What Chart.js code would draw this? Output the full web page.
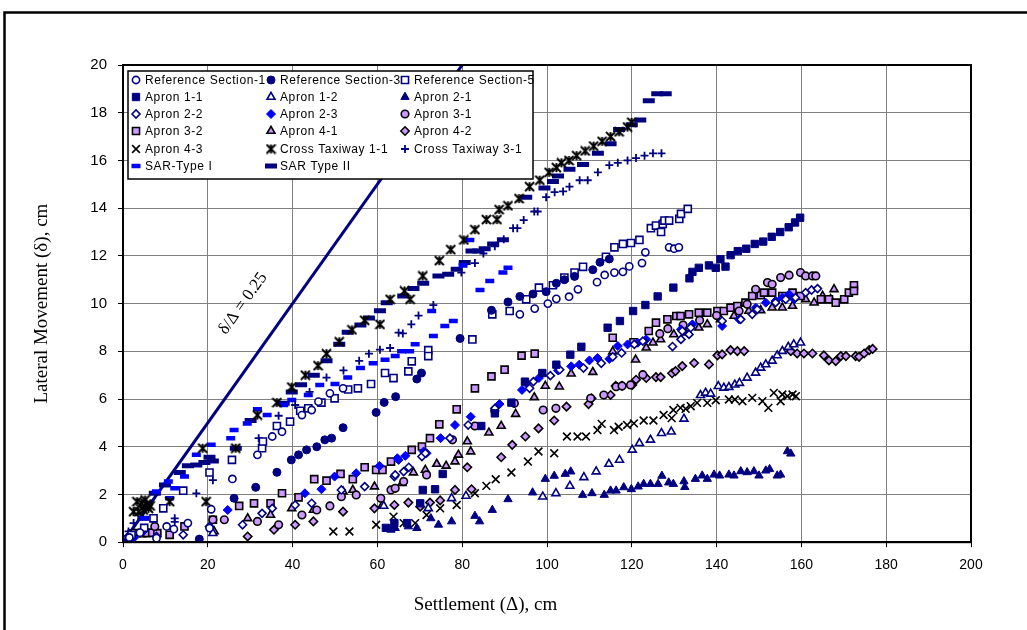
<!DOCTYPE html>
<html>
<head>
<meta charset="utf-8">
<script src="https://cdn.jsdelivr.net/npm/chart.js@4.4.1/dist/chart.umd.min.js"></script>
<style>
  html, body { margin: 0; padding: 0; background: #fff; }
</style>
</head>
<body>
<canvas id="chart" width="1027" height="630"></canvas>
<script>
// Axis ticks
const xTicks = [0, 20, 40, 60, 80, 100, 120, 140, 160, 180, 200]
const yTicks = [0, 2, 4, 6, 8, 10, 12, 14, 16, 18, 20]

// Series names (legend order)
const seriesNames = [
  'Reference Section-1', 'Reference Section-3', 'Reference Section-5',
  'Apron 1-1', 'Apron 1-2', 'Apron 2-1',
  'Apron 2-2', 'Apron 2-3', 'Apron 3-1',
  'Apron 3-2', 'Apron 4-1', 'Apron 4-2',
  'Apron 4-3', 'Cross Taxiway 1-1', 'Cross Taxiway 3-1',
  'SAR-Type I', 'SAR Type II'
]

// [settlement, lateral movement], cm
const refSection1 = [[1.5,0.2],[4,0.4],[7.9,0.17],[10.3,0.66],[12,0.55],[15.3,0.8],[20.4,0.59],[20.8,1.38],[25.8,2.65],[31.7,3.66],[35.2,4.43],[37.5,4.63],[42.2,5.33],[44.5,5.54],[46.1,5.89],[48.8,6.24],[51.9,6.45],[93.6,9.55],[97.1,9.79],[100.2,10.0],[102.2,10.2],[105.2,10.29],[107.3,10.6],[111.8,10.9],[113.6,11.2],[115.9,11.3],[117.9,11.33],[119.4,11.56],[122.4,11.7],[123.2,12.15],[128.8,12.36],[130,12.3],[131.1,12.36]]
const refSection3 = [[0,0],[18,0.13],[26.2,1.84],[31.3,2.3],[36.3,2.93],[39.7,3.45],[41.4,3.66],[43.3,3.87],[45.7,4.0],[47.6,4.29],[49.2,4.36],[51.9,4.8],[59.7,5.44],[61.6,5.86],[64.3,6.1],[69.3,6.84],[70.4,7.09],[79.5,8.54],[86.9,9.72],[90.8,10.07],[93.6,10.3],[96.7,10.4],[99.8,10.5],[102.2,10.85],[104.1,11.0],[106.5,11.14],[110.8,11.42],[112.5,11.73],[114.7,11.87]]
const refSection5 = [[2,0.3],[5,0.6],[7.2,1.0],[9.5,1.42],[14.2,2.16],[20.4,2.92],[25.7,3.45],[32.8,3.94],[33,4.22],[36.3,4.87],[39.4,5.05],[41.8,5.51],[43.7,5.61],[46.8,5.85],[49.9,6.03],[53.1,6.4],[55.4,6.45],[58.5,6.63],[61.8,7.09],[63.8,6.88],[67.3,7.16],[68.1,7.58],[72,8.05],[72,7.8],[82.4,8.5],[87.1,9.55],[91.2,9.69],[95.1,10.18],[98.1,10.67],[101.4,10.77],[104.1,11.09],[106.5,11.3],[108.5,11.54],[113.9,11.96],[115.9,12.36],[117.9,12.5],[119.8,12.54],[121.8,12.67],[124.5,13.16],[125.7,13.27],[126.9,13.0],[127.3,13.34],[127.7,13.48],[128.8,13.48],[131.2,13.55],[131.6,13.76],[133.2,13.97]]
const apron11 = [[0,0],[62,0.6],[64,0.8],[67,0.8],[70.1,1.63],[70.7,2.19],[73.6,2.22],[75.4,2.86],[84.5,4.87],[87.7,5.4],[91.6,5.85],[94.8,6.73],[98.9,7.09],[102.2,7.44],[105.5,7.86],[108.1,8.19],[114.3,8.99],[117.2,9.27],[120.3,9.69],[123.2,9.94],[126.1,10.3],[129.8,10.67],[133.6,11.06],[134.3,11.33],[135.8,11.5],[138.2,11.6],[139.8,11.5],[140.9,11.86],[142.1,11.55],[143.3,12.03],[145,12.2],[147,12.3],[149,12.5],[151,12.6],[153,12.8],[155,13.0],[157,13.2],[158.5,13.4],[159.7,13.6]]
const apron12 = [[21.2,0.38],[61.5,1.52],[72,1.42],[77.5,1.84],[80.9,1.94],[99,1.91],[102.1,2.05],[105.4,2.36],[108.7,2.72],[111.6,2.96],[114.6,3.28],[117.1,3.45],[120.1,3.87],[121.8,4.15],[124.4,4.29],[127,4.57],[129.3,4.63],[132.3,5.17],[136.2,6.16],[137.4,6.26],[138.6,6.22],[140.4,6.54],[141.7,6.47],[142.9,6.5],[144.3,6.6],[145.4,6.67],[147.2,6.89],[149.2,7.1],[150.4,7.31],[151.6,7.45],[153.1,7.6],[154.3,7.83],[155.5,8.01],[156.9,8.18],[158.2,8.29],[159.8,8.36]]
const apron21 = [[63.2,0.52],[64.2,0.59],[67.3,0.66],[69.3,0.59],[72.6,1.0],[74.4,0.73],[77.5,0.87],[83,1.1],[84.1,0.87],[87.1,1.35],[90.8,1.8],[96.6,2.08],[99.6,2.65],[101.7,2.78],[104.3,2.86],[105.6,2.96],[108.4,1.98],[110.6,2.05],[113.5,1.98],[115,2.16],[116.3,2.16],[118.1,2.3],[119.9,2.22],[121.5,2.33],[122.8,2.44],[124.4,2.44],[126.2,2.44],[127.1,2.78],[128.7,2.5],[129.8,2.44],[132.3,2.55],[132.5,2.31],[135,2.65],[136.6,2.79],[137.8,2.65],[139.4,2.83],[140.7,2.79],[142.9,2.83],[144.1,2.79],[145.7,2.97],[147.2,2.93],[148.8,2.97],[150,2.79],[151.6,3.0],[152.5,3.06],[154.3,2.79],[155.1,2.83],[156.7,3.81],[157.5,3.71]]
const apron22 = [[1,0.2],[7.9,0.24],[14.2,0.31],[20.4,0.66],[28.2,0.73],[32.8,1.21],[35.2,1.42],[40.6,1.56],[44.5,1.63],[51.5,2.19],[57,2.33],[64,2.75],[64.2,2.82],[66.2,2.96],[67.4,3.14],[70.5,3.59],[71.3,3.73],[77.1,4.36],[81.4,4.91],[87.7,5.61],[95.9,6.45],[96.8,6.73],[100.8,6.98],[103,7.23],[108.6,7.3],[112.8,7.5],[115.5,7.77],[117.6,7.93],[120.6,8.29],[122.6,8.43],[129.6,8.2],[131.6,8.5],[133.5,8.71],[131.9,8.85],[133.9,8.99],[141.3,9.27],[145.7,9.34],[148.4,9.55],[149.6,9.76],[153.9,10.04],[156.3,10.18],[158.6,10.25],[161,10.46],[162.4,10.57],[163.8,10.63]]
const apron23 = [[2.5,0.17],[5,0.5],[24.7,1.35],[42.9,2.05],[46.8,2.22],[49.9,2.75],[55,2.89],[60.5,3.2],[64.7,3.52],[65,3.45],[66.6,3.62],[70.9,3.8],[71.6,3.73],[74.9,4.36],[78.3,4.91],[82,5.26],[88.8,5.79],[94.1,6.38],[95.1,6.66],[98.1,6.88],[102.6,7.2],[105.7,7.37],[107.6,7.44],[110,7.62],[111.9,7.72],[114.7,7.68],[116.7,8.22],[119,8.29],[121.4,8.36],[123.4,8.5],[131.6,8.92],[134.3,9.13],[141.3,9.06],[145.3,9.34],[149.2,9.83],[151.6,10.04],[153.9,10.11],[155.5,10.25],[157.1,10.39],[158.3,10.18]]
const apron31 = [[2.5,0.38],[7.5,0.66],[21.2,0.94],[23.9,0.94],[31.7,0.87],[36.7,0.73],[42.2,1.14],[45.7,1.35],[48.8,1.52],[51.5,1.91],[55,1.98],[60.8,1.84],[63.2,2.19],[64.2,2.26],[66.2,2.54],[71.6,2.82],[77.7,4.29],[83,4.87],[87.7,5.51],[92.3,5.82],[99.1,5.54],[102.1,5.61],[110.3,6.03],[113.4,6.17],[116.3,6.52],[117.7,6.55],[119.7,6.59],[122.6,7.02],[126.6,8.74],[128.5,8.95],[132.1,9.1],[136,9.3],[140,9.5],[145.3,9.69],[147.2,9.97],[149.2,10.6],[152,10.88],[153.1,10.81],[155.1,11.09],[157.1,11.19],[159.8,11.3],[161,11.16],[162.6,11.16],[163.4,11.16]]
const apron32 = [[3.3,0.38],[4.5,0.38],[5.7,0.38],[6.9,0.4],[8.1,0.38],[11,0.31],[14.5,0.66],[21.2,0.94],[27.4,1.52],[30.9,1.63],[34.8,1.63],[37.5,2.05],[41.4,1.88],[45.1,2.64],[48,2.58],[51.3,2.86],[54.2,2.64],[57,3.14],[59.7,3.03],[61.2,3.03],[63.2,3.38],[68.1,3.87],[70.5,4.01],[72.4,4.36],[74.6,4.94],[78.7,5.57],[83,6.45],[86.9,6.95],[90,7.23],[94,7.82],[97.1,7.9],[115.5,8.57],[120.4,8.38],[124,8.85],[125.7,9.2],[128.4,9.34],[130.5,9.48],[131.5,9.48],[133.5,9.55],[135.8,9.62],[137.8,9.62],[140.2,9.69],[141.7,9.69],[143.3,9.83],[144.9,9.9],[146.8,10.04],[148.4,10.32],[150.4,10.35],[151.2,10.46],[153.1,10.46],[155.5,10.32],[157.9,10.46],[159.8,10.32],[164.6,10.18],[166.5,10.18],[168.1,10.04],[170.1,10.18],[171.2,10.46],[172.4,10.77],[172.4,10.53]]
const apron41 = [[21.5,0.45],[29.4,1.0],[34.8,1.14],[39.8,1.42],[44.9,1.35],[51.9,2.12],[54.2,2.19],[59.3,2.33],[61.2,1.56],[65.8,2.47],[68.5,2.92],[71.3,3.03],[74,3.28],[76.2,3.2],[78.3,3.38],[79.1,3.66],[81.2,4.22],[82,3.8],[86.3,4.59],[89.2,4.87],[92.6,5.37],[97,6.07],[99.6,6.55],[102.9,6.52],[105.7,7.06],[110.8,7.13],[115.5,7.99],[120.9,7.65],[123.4,8.15],[125,8.36],[126.8,8.5],[129.9,8.71],[132.7,8.78],[135.8,8.99],[137.8,9.13],[140.9,9.34],[144.1,9.48],[147.6,9.69],[150.4,9.72],[153.1,9.83],[155.5,9.83],[157.9,9.9],[161,10.18],[163,10.04],[165,10.32],[166.9,10.18],[167.7,10.6]]
const apron42 = [[29.4,0.24],[35.6,0.52],[40.6,0.73],[44.9,0.87],[51.9,1.28],[59.3,1.42],[64,1.56],[67.3,1.66],[70.1,1.49],[72.4,1.66],[74.8,1.75],[78.3,2.19],[82.2,2.22],[81.2,3.14],[89.2,3.56],[91.8,4.08],[94.9,4.43],[98,4.77],[101.7,5.1],[104.6,5.68],[109.8,5.79],[110.5,6.03],[115,6.17],[116.2,6.55],[117.7,6.55],[120.1,6.59],[121,6.81],[123.4,6.88],[125.7,6.92],[126.8,6.92],[129.5,7.08],[130.3,7.17],[131.9,7.38],[134.7,7.51],[138.2,7.45],[140.2,7.83],[141.3,7.87],[143.3,8.05],[144.9,8.01],[146.5,8.01],[157.5,8.01],[159,7.91],[160.6,7.91],[162.6,7.91],[165.3,7.83],[166.5,7.62],[168.1,7.59],[169.3,7.8],[170.5,7.8],[172.8,7.8],[173.6,7.77],[174.8,7.91],[176,8.05],[176.8,8.1]]
const apron43 = [[49.6,0.45],[53.4,0.45],[59.7,0.73],[63.8,1.07],[66.2,0.8],[68.9,0.8],[71.6,1.14],[74.8,1.42],[78.7,1.56],[83,2.05],[85.7,2.36],[87.9,2.64],[91.6,2.92],[95.5,3.38],[98,3.8],[101.7,3.73],[104.7,4.43],[107.2,4.43],[109.2,4.43],[111.9,4.7],[112.9,4.96],[115.8,4.7],[116.9,4.84],[118.9,4.91],[120.5,4.98],[122.8,5.1],[125.1,5.1],[127.5,5.33],[129.4,5.2],[129.8,5.54],[131.5,5.63],[132.7,5.59],[133.9,5.7],[135.4,5.84],[137.8,5.84],[139.8,5.95],[142.9,5.98],[144.3,5.98],[146.1,5.91],[148.4,6.05],[150.8,5.91],[152.2,5.63],[153.5,6.26],[155.1,5.91],[155.5,6.19],[156.7,6.12],[157.9,6.19],[158.7,6.12]]
const crossTaxiway11 = [[2.5,1.28],[3.3,1.7],[3.7,1.28],[4.4,1.63],[4.8,1.35],[5.2,1.77],[5.6,1.6],[6,1.42],[6.4,1.52],[11,1.7],[19.6,1.7],[18.8,3.94],[26.6,3.94],[31.7,5.33],[36.3,5.85],[39.8,6.5],[43,7.0],[46,7.4],[48,7.9],[51,8.4],[54,8.9],[57,9.3],[60.6,9.13],[63,10.18],[66.4,10.53],[67.7,10.18],[70.7,11.16],[74.6,11.8],[77.3,12.26],[80.4,12.67],[83,13.1],[85.7,13.52],[88.2,13.52],[88.7,13.94],[90.8,14.1],[93.4,14.4],[95.9,14.9],[98.3,15.17],[100.5,15.5],[102.2,15.7],[103.4,15.9],[105.2,16.0],[107,16.2],[109,16.4],[111,16.6],[113,16.8],[115,17.0],[117,17.2],[119,17.4],[120,17.6]]
const crossTaxiway31 = [[1.3,0.45],[2.5,0.8],[7.2,0.87],[12.2,1.0],[12.2,0.85],[17.3,2.05],[21.2,2.6],[32,4.36],[36.7,5.3],[40.6,5.75],[44,6.3],[48,6.9],[52,7.2],[55.7,7.6],[58,7.9],[60.6,8.07],[63,8.14],[65,8.78],[66,8.75],[68,9.13],[69.7,9.5],[73.2,9.94],[79.8,11.3],[83,11.7],[85,12.1],[87.7,12.4],[89.8,12.7],[92,13.16],[93,13.16],[94.5,13.5],[97,13.86],[97.8,13.86],[99.8,14.46],[101.8,14.67],[103.8,14.7],[105.3,14.9],[107.7,15.17],[109.6,15.17],[112,15.5],[114.7,15.8],[116.7,15.9],[119,16.0],[121,16.1],[123,16.2],[125,16.3],[127,16.3]]
const sarType1 = [[5,1.0],[7.9,2.12],[10.7,2.54],[11,1.84],[12.2,2.26],[14.5,2.75],[17.3,3.66],[20.8,4.08],[25.4,4.36],[26.2,4.7],[29.3,4.98],[31.7,5.57],[34,5.33],[37.9,5.75],[39.8,5.96],[43.7,6.17],[46.4,6.59],[50,6.63],[53,6.9],[56,7.3],[59,7.5],[61.8,7.65],[64.2,7.8],[65.7,8.0],[67.6,8.0],[68.9,8.3],[72.8,9.69],[73.2,8.64],[75.9,9.06],[77.9,9.27],[80.2,11.6],[81.8,12.67],[84.2,10.57],[86.5,10.95],[89.6,11.3],[90.8,11.5]]
const sarType2 = [[0,0],[2.5,0.45],[4.8,1.0],[7.5,2.05],[9.9,2.4],[13.4,2.92],[15.3,3.2],[17.3,3.24],[19.2,3.34],[20.4,3.56],[21.2,3.4],[26.6,3.94],[30.1,5.1],[37.9,5.82],[39.8,6.3],[42,6.6],[45,7.0],[48,7.6],[51,8.3],[53,8.8],[56,9.1],[58,9.4],[60.6,9.7],[62.2,10.04],[66.1,10.32],[68.5,10.63],[70.8,10.85],[74.4,11.16],[76.7,11.23],[78.7,11.44],[80.6,11.72],[82.2,12.2],[83.8,12.2],[85.3,12.3],[87.3,12.5],[89.6,12.68],[95.1,14.46],[99.4,14.84],[101.4,15.12],[102.6,15.35],[105.3,15.63],[108.5,15.83],[112,16.3],[115,16.7],[117,17.3],[120,17.5],[122,17.7],[124,18.5],[126,18.8],[128,18.8]]

// reference line delta/settlement = 0.25
const ratioLine = [[0, 0], [80, 20]]

const NAVY = '#000080', BLUE = '#0000FF', LAV = '#CC99FF', BLACK = '#000000'

// Excel-like "star" marker: an X with a vertical bar through it
function starMarker(size, color) {
  const c = document.createElement('canvas')
  c.width = size; c.height = size
  const g = c.getContext('2d')
  const m = size / 2, r = size / 2 - 1
  g.strokeStyle = color
  g.lineWidth = 2
  g.beginPath()
  g.moveTo(m - r, m - r); g.lineTo(m + r, m + r)
  g.moveTo(m + r, m - r); g.lineTo(m - r, m + r)
  g.moveTo(m, m - r); g.lineTo(m, m + r)
  g.stroke()
  return c
}

function series(label, data, style, radius, fill, stroke, bw) {
  return {
    label: label,
    data: data.map(p => ({x: p[0], y: p[1]})),
    pointStyle: style,
    pointRadius: radius,
    pointBackgroundColor: fill,
    pointBorderColor: stroke,
    pointBorderWidth: bw,
    showLine: false
  }
}

const datasets = [
  series(seriesNames[0], refSection1, 'circle', 3.6, '#fff', NAVY, 1.6),
  series(seriesNames[1], refSection3, 'circle', 4, NAVY, NAVY, 1),
  series(seriesNames[2], refSection5, 'rect', 5, '#fff', NAVY, 1.6),
  series(seriesNames[3], apron11, 'rect', 5.2, NAVY, NAVY, 1),
  series(seriesNames[4], apron12, 'triangle', 4.6, '#fff', NAVY, 1.6),
  series(seriesNames[5], apron21, 'triangle', 4.8, NAVY, NAVY, 1),
  series(seriesNames[6], apron22, 'rectRot', 4, '#fff', NAVY, 1.6),
  series(seriesNames[7], apron23, 'rectRot', 4.5, BLUE, BLUE, 1),
  series(seriesNames[8], apron31, 'circle', 3.8, LAV, BLACK, 1.6),
  series(seriesNames[9], apron32, 'rect', 5, LAV, BLACK, 1.6),
  series(seriesNames[10], apron41, 'triangle', 4.6, LAV, BLACK, 1.6),
  series(seriesNames[11], apron42, 'rectRot', 4.2, LAV, BLACK, 1.6),
  series(seriesNames[12], apron43, 'crossRot', 5.5, BLACK, BLACK, 1.6),
  series(seriesNames[13], crossTaxiway11, starMarker(11, BLACK), 5, BLACK, BLACK, 1),
  series(seriesNames[14], crossTaxiway31, 'cross', 4, NAVY, NAVY, 1.8),
  series(seriesNames[15], sarType1, 'line', 4.5, BLUE, BLUE, 4.5),
  series(seriesNames[16], sarType2, 'line', 6, NAVY, NAVY, 5)
]
datasets.push({
  label: 'ratio',
  data: ratioLine.map(p => ({x: p[0], y: p[1]})),
  showLine: true,
  borderColor: NAVY,
  borderWidth: 3,
  pointRadius: 0,
  order: 1
})

// frame, plot border, ratio label and the boxed legend
const decor = {
  id: 'decor',
  beforeDraw(chart) {
    const ctx = chart.ctx
    ctx.save()
    ctx.fillStyle = '#fff'
    ctx.fillRect(0, 0, chart.width, chart.height)
    ctx.restore()
  },
  afterDatasetsDraw(chart) {
    const ctx = chart.ctx
    const xs = chart.scales.x, ys = chart.scales.y
    ctx.save()
    ctx.translate(xs.getPixelForValue(28.3), ys.getPixelForValue(10))
    ctx.rotate(-54.6 * Math.PI / 180)
    ctx.font = '17px "Liberation Serif", "Times New Roman", serif'
    ctx.fillStyle = '#000'
    ctx.textAlign = 'center'
    ctx.textBaseline = 'middle'
    ctx.fillText('\u03B4/\u0394 = 0.25', 0, 0)
    ctx.restore()
  },
  afterDraw(chart) {
    const ctx = chart.ctx
    const a = chart.chartArea
    ctx.save()
    // plot border
    ctx.strokeStyle = '#000'
    ctx.lineWidth = 2
    ctx.strokeRect(a.left, a.top, a.right - a.left, a.bottom - a.top)
    // outer frame (left and top edges)
    ctx.lineWidth = 2.5
    ctx.beginPath()
    ctx.moveTo(4.5, chart.height)
    ctx.lineTo(4.5, 12.5)
    ctx.lineTo(chart.width, 12.5)
    ctx.stroke()

    // legend box
    const lx = 128, ly = 71, lw = 405, lh = 108
    ctx.fillStyle = '#fff'
    ctx.fillRect(lx, ly, lw, lh)
    ctx.lineWidth = 1.5
    ctx.strokeRect(lx, ly, lw, lh)
    const colX = [136, 271, 405]
    const rowY = [80, 97, 114, 131, 149, 166]
    ctx.font = '12px "Liberation Sans", Arial, sans-serif'
    if ('letterSpacing' in ctx) ctx.letterSpacing = '0.6px'
    ctx.textBaseline = 'middle'
    ctx.textAlign = 'left'
    seriesNames.forEach((name, i) => {
      const ds = chart.data.datasets[i]
      const cx = colX[i % 3], cy = rowY[Math.floor(i / 3)]
      ctx.fillStyle = ds.pointBackgroundColor
      ctx.strokeStyle = ds.pointBorderColor
      ctx.lineWidth = ds.pointBorderWidth
      Chart.helpers.drawPoint(ctx, {
        pointStyle: ds.pointStyle, radius: ds.pointRadius,
        borderWidth: ds.pointBorderWidth, rotation: 0
      }, cx, cy)
      ctx.fillStyle = '#000'
      ctx.fillText(name, cx + 9, cy + 1)
    })
    ctx.restore()
  }
}

new Chart(document.getElementById('chart'), {
  type: 'scatter',
  data: {datasets: datasets},
  plugins: [decor],
  options: {
    responsive: false,
    animation: false,
    events: [],
    layout: {padding: {left: 0, top: 65, right: 56, bottom: 0}},
    plugins: {
      legend: {display: false},
      tooltip: {enabled: false},
      title: {
        display: true,
        position: 'bottom',
        text: 'Settlement (\u0394), cm',
        color: '#000',
        font: {family: '"Liberation Serif", "Times New Roman", serif', size: 19, weight: 'normal'},
        padding: {top: 0, bottom: 14}
      }
    },
    scales: {
      x: {
        type: 'linear',
        min: 0, max: 200,
        afterBuildTicks: s => { s.ticks = xTicks.map(v => ({value: v})) },
        afterFit: s => { s.height = 51 },
        ticks: {color: '#000', padding: 10, maxRotation: 0,
          font: {family: '"Liberation Sans", Arial, sans-serif', size: 14}},
        grid: {color: '#808080', lineWidth: 1, tickLength: 5, tickColor: '#000'},
        border: {color: '#000', width: 2}
      },
      y: {
        type: 'linear',
        min: 0, max: 20,
        afterBuildTicks: s => { s.ticks = yTicks.map(v => ({value: v})) },
        afterFit: s => { s.width = 123 },
        ticks: {color: '#000', padding: 11,
          font: {family: '"Liberation Sans", Arial, sans-serif', size: 15}},
        grid: {color: '#808080', lineWidth: 1, tickLength: 5, tickColor: '#000'},
        border: {color: '#000', width: 2},
        title: {
          display: true,
          text: 'Lateral Movement (\u03B4), cm',
          color: '#000',
          font: {family: '"Liberation Serif", "Times New Roman", serif', size: 19},
          padding: {top: 31, bottom: 0}
        }
      }
    }
  }
})
</script>
</body>
</html>
